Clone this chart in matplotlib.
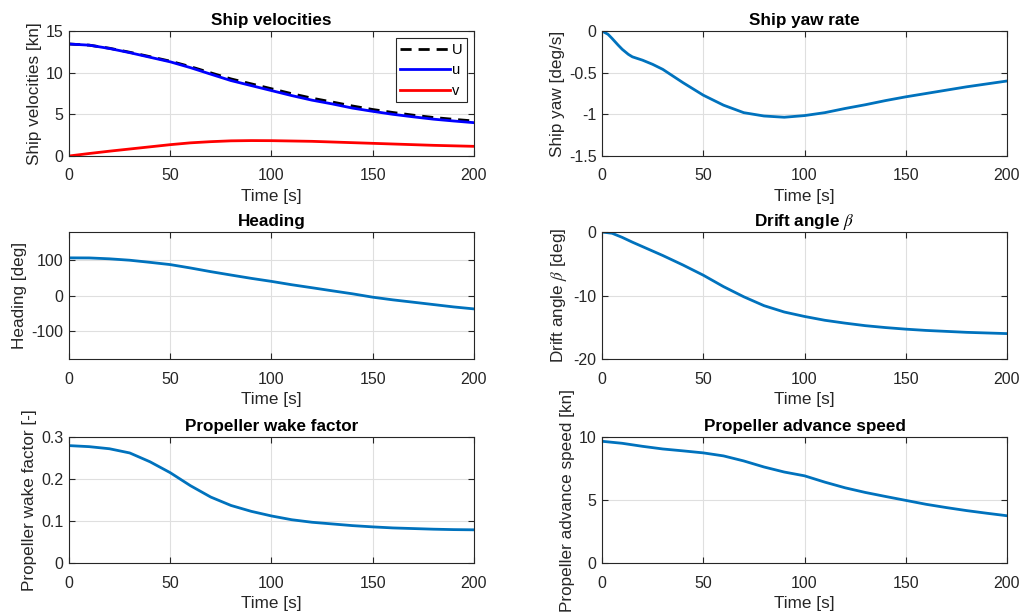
import matplotlib
matplotlib.use("Agg")
import matplotlib.pyplot as plt

plt.rcParams['font.family'] = ['Liberation Sans', 'DejaVu Sans']
plt.rcParams['mathtext.fontset'] = 'stix'

# time samples [s]
t = [0, 10, 20, 30, 40, 50, 60, 70, 80, 90, 100,
     110, 120, 130, 140, 150, 160, 170, 180, 190, 200]

# ship velocities [kn]
U = [13.44, 13.3, 12.93, 12.45, 11.92, 11.38, 10.72, 9.98, 9.25, 8.66, 8.07,
     7.48, 6.94, 6.48, 6.0, 5.58, 5.22, 4.9, 4.62, 4.4, 4.2]
u = [13.44, 13.3, 12.9, 12.4, 11.85, 11.3, 10.6, 9.82, 9.05, 8.45, 7.85,
     7.25, 6.7, 6.25, 5.75, 5.36, 5.0, 4.7, 4.42, 4.2, 4.0]
v = [0.0, 0.3, 0.58, 0.84, 1.1, 1.36, 1.58, 1.72, 1.82, 1.85, 1.84,
     1.8, 1.76, 1.68, 1.6, 1.52, 1.44, 1.36, 1.28, 1.22, 1.16]

# yaw rate [deg/s]
t_r = [0, 3, 5, 8, 10, 13, 15, 20, 25, 30, 35, 40, 50, 60, 70, 80, 90, 100,
       110, 120, 130, 140, 150, 160, 170, 180, 190, 200]
r = [0.0, -0.04, -0.09, -0.17, -0.22, -0.28, -0.31, -0.35, -0.40, -0.46,
     -0.54, -0.62, -0.77, -0.89, -0.98, -1.02, -1.035, -1.015, -0.98,
     -0.93, -0.885, -0.835, -0.79, -0.75, -0.71, -0.67, -0.635, -0.60]

# heading [deg]
psi = [106.7, 106.5, 104, 100, 94, 87.6, 78, 67.6, 58, 48.6, 40,
       30.5, 22, 13.3, 4.8, -4.8, -12.4, -19, -25.7, -32.4, -38]

# drift angle [deg]
t_b = [0, 5, 10, 15, 20, 30, 40, 50, 60, 70, 80, 90, 100,
       110, 120, 130, 140, 150, 160, 170, 180, 190, 200]
beta = [0.0, -0.2, -0.85, -1.6, -2.3, -3.7, -5.2, -6.8, -8.6, -10.2, -11.6,
        -12.6, -13.3, -13.9, -14.35, -14.75, -15.05, -15.3, -15.5, -15.65,
        -15.8, -15.9, -16.0]

# propeller wake factor [-]
w = [0.2795, 0.277, 0.272, 0.262, 0.241, 0.215, 0.184, 0.157, 0.137, 0.123,
     0.112, 0.103, 0.097, 0.093, 0.089, 0.086, 0.0835, 0.082, 0.0805, 0.0795, 0.079]

# propeller advance speed [kn]
ua = [9.66, 9.5, 9.26, 9.05, 8.9, 8.74, 8.5, 8.1, 7.62, 7.22, 6.92,
      6.42, 5.97, 5.6, 5.28, 4.97, 4.66, 4.4, 4.16, 3.95, 3.75]

blue = '#0072BD'
dark = '#262626'

fig = plt.figure(figsize=(10.2, 6.15), dpi=100)
W, H = 1020.0, 615.0
def axes_px(x0, y0, x1, y1):
    return fig.add_axes([x0 / W, 1 - y1 / H, (x1 - x0) / W, (y1 - y0) / H])

ax1 = axes_px(69, 31, 474, 156)
ax2 = axes_px(602, 31, 1007, 156)
ax3 = axes_px(69, 232, 474, 359)
ax4 = axes_px(602, 232, 1007, 359)
ax5 = axes_px(69, 437, 474, 563)
ax6 = axes_px(602, 437, 1007, 563)

ax1.plot(t, U, '--', color='k', lw=2, label='U', dashes=(4, 2.5))
ax1.plot(t, u, color='#0000FF', lw=2, label='u')
ax1.plot(t, v, color='#FF0000', lw=2, label='v')
leg = ax1.legend(loc='upper right', fontsize=10.5, fancybox=False, framealpha=1,
                 edgecolor=dark, handlelength=3.4, handletextpad=0.15,
                 borderpad=0.3, labelspacing=0.45, borderaxespad=0.5)
leg.get_frame().set_linewidth(0.8)

ax2.plot(t_r, r, color=blue, lw=2)
ax3.plot(t, psi, color=blue, lw=2)
ax4.plot(t_b, beta, color=blue, lw=2)
ax5.plot(t, w, color=blue, lw=2)
ax6.plot(t, ua, color=blue, lw=2)

specs = [
    (ax1, 'Ship velocities', 'Ship velocities [kn]', (0, 15), [0, 5, 10, 15], ['0', '5', '10', '15']),
    (ax2, 'Ship yaw rate', 'Ship yaw [deg/s]', (-1.5, 0), [-1.5, -1, -0.5, 0], ['-1.5', '-1', '-0.5', '0']),
    (ax3, 'Heading', 'Heading [deg]', (-180, 180), [-100, 0, 100], ['-100', '0', '100']),
    (ax4, 'Drift angle $\\beta$', 'Drift angle $\\beta$ [deg]', (-20, 0), [-20, -10, 0], ['-20', '-10', '0']),
    (ax5, 'Propeller wake factor', 'Propeller wake factor [-]', (0, 0.3), [0, 0.1, 0.2, 0.3], ['0', '0.1', '0.2', '0.3']),
    (ax6, 'Propeller advance speed', 'Propeller advance speed [kn]', (0, 10), [0, 5, 10], ['0', '5', '10']),
]

for ax, title, ylab, ylim, yt, ytl in specs:
    ax.set_xlim(0, 200)
    ax.set_ylim(*ylim)
    ax.set_xticks([0, 50, 100, 150, 200])
    ax.set_yticks(yt)
    ax.set_yticklabels(ytl)
    ax.set_title(title, fontsize=12.3, fontweight='bold', color='k', pad=4)
    ax.set_xlabel('Time [s]', fontsize=12.3, color=dark, labelpad=4)
    ax.set_ylabel(ylab, fontsize=12.3, color=dark, labelpad=3)
    ax.grid(True, color='#DFDFDF', lw=0.8)
    ax.set_axisbelow(True)
    ax.tick_params(direction='in', length=4, width=0.8, top=True, right=True,
                   labelsize=11.5, colors=dark)
    ax.tick_params(axis='x', pad=9)
    ax.tick_params(axis='y', pad=4)
    for s in ax.spines.values():
        s.set_color(dark)
        s.set_linewidth(0.8)

fig.savefig('out.png', dpi=100)
